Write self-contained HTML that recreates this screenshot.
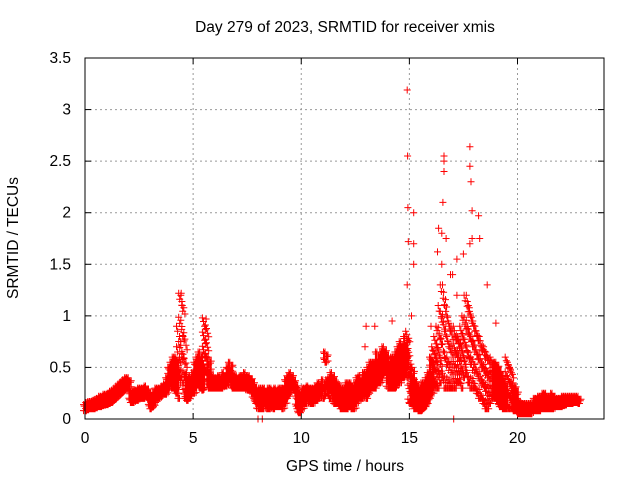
<!DOCTYPE html>
<html><head><meta charset="utf-8"><style>
body{margin:0;background:#fff}
svg text{font-family:"Liberation Sans",sans-serif;font-size:15.5px;fill:#000}
</style></head><body>
<svg id="c" width="640" height="480">
<text x="345" y="32" text-anchor="middle">Day 279 of 2023, SRMTID for receiver xmis</text>
<text x="345" y="471" text-anchor="middle">GPS time / hours</text>
<text transform="translate(18,238) rotate(-90)" text-anchor="middle">SRMTID / TECUs</text>
<g id="grid"></g><g id="marks"></g>
<rect x="85" y="58" width="519" height="361" fill="none" stroke="#000" stroke-width="1"/>
</svg>
<script>
const xTicks=[0,5,10,15,20];
const yTicks=[0,0.5,1,1.5,2,2.5,3,3.5];
const yTickLabels=["0","0.5","1","1.5","2","2.5","3","3.5"];
const sampleStep=0.1;
const bandLow=[.08,.09,.1,.1,.1,.11,.12,.12,.13,.14,.14,.15,.16,.18,.2,.22,.24,.26,.28,.3,.3,.16,.16,.18,.18,.2,.2,.2,.22,.2,.1,.12,.16,.2,.2,.22,.24,.24,.28,.35,.3,.3,.25,.2,.4,.35,.2,.18,.2,.25,.25,.3,.35,.3,.28,.5,.45,.3,.3,.3,.3,.3,.3,.3,.32,.32,.35,.4,.3,.3,.3,.3,.3,.3,.3,.28,.28,.25,.2,.15,.1,.1,.1,.15,.1,.1,.12,.1,.12,.12,.12,.1,.15,.2,.25,.3,.3,.25,.1,.06,.1,.15,.15,.2,.15,.15,.18,.18,.2,.25,.2,.55,.25,.2,.25,.15,.15,.15,.1,.1,.1,.1,.12,.1,.1,.15,.2,.2,.2,.25,.2,.25,.3,.3,.3,.35,.35,.4,.45,.45,.3,.3,.3,.3,.35,.35,.4,.4,.45,.4,.15,.15,.1,.1,.08,.08,.1,.12,.15,.2,.25,.3,.3,.3,.35,.4,.3,.3,.3,.3,.3,.3,.35,.35,.3,.4,.45,.35,.3,.3,.3,.25,.2,.2,.15,.1,.1,.15,.2,.2,.2,.15,.12,.1,.1,.1,.1,.1,.08,.08,.05,.05,.05,.05,.05,.05,.05,.08,.08,.08,.08,.1,.1,.1,.1,.1,.1,.12,.12,.12,.12,.13,.14,.15,.15,.15,.16,.16,.15];
const bandHigh=[.14,.16,.17,.17,.18,.19,.2,.22,.22,.24,.24,.25,.27,.28,.3,.32,.34,.36,.38,.4,.4,.26,.26,.28,.28,.3,.3,.3,.32,.28,.2,.22,.26,.3,.3,.3,.32,.34,.4,.5,.55,.6,.6,.9,1.22,1.2,.8,.45,.38,.4,.45,.55,.6,.65,.5,.98,.9,.6,.45,.4,.4,.4,.42,.4,.45,.42,.5,.55,.45,.42,.42,.4,.42,.42,.45,.4,.42,.38,.33,.3,.28,.3,.3,.3,.26,.3,.3,.28,.3,.28,.3,.3,.3,.38,.42,.45,.4,.35,.3,.25,.25,.3,.3,.32,.3,.3,.3,.32,.35,.33,.38,.65,.38,.4,.45,.4,.35,.35,.3,.3,.3,.35,.35,.35,.3,.35,.4,.42,.35,.45,.45,.5,.55,.55,.55,.65,.55,.65,.7,.65,.55,.55,.6,.6,.65,.7,.75,.7,.8,.85,.6,.5,.4,.35,.3,.3,.35,.35,.4,.45,.6,.7,.8,.9,1.1,1.3,1.3,1.1,1.0,.9,.9,.9,.8,.8,.9,1.0,1.2,1.2,1.1,1.0,.95,.9,.8,.8,.7,.7,.65,.6,.6,.55,.55,.5,.45,.4,.35,.6,.55,.5,.35,.3,.2,.15,.15,.15,.15,.15,.15,.15,.2,.2,.22,.22,.25,.25,.2,.22,.25,.22,.2,.2,.2,.22,.22,.22,.22,.22,.22,.22,.22];
const spikeTimes=[14.9,14.92,14.93,14.95,14.9,15.2,15.2,15.2,15.1,16.35,16.6,16.6,16.6,16.55,16.5,16.7,16.3,17.0,17.8,17.8,17.85,17.9,17.8,17.9,18.2,18.25,16.9,17.2,13.0,13.4,12.95,14.2,19.0,18.6,16.0,17.5,16.5,17.2,8.0,8.2,17.05,4.45,4.5,5.6];
const spikeValues=[3.19,2.55,2.05,1.72,1.3,2.0,1.7,1.5,1.0,1.85,2.55,2.5,2.4,2.1,1.8,1.75,1.62,1.4,2.64,2.45,2.3,2.02,1.7,1.75,1.97,1.75,1.4,1.55,0.9,0.9,0.7,0.95,0.93,1.3,0.9,1.6,1.5,1.2,0,0,0,1.22,1.1,0.97];
const X0=85,X1=604,Y0=419,Y1=58;
const xs=t=>X0+t/24*(X1-X0);
const ys=v=>Y0-v/3.5*(Y0-Y1);
const NS="http://www.w3.org/2000/svg";
const grid=document.getElementById('grid'),marks=document.getElementById('marks');
function mk(tag,attrs,parent){const e=document.createElementNS(NS,tag);for(const k in attrs)e.setAttribute(k,attrs[k]);parent.appendChild(e);return e;}
yTicks.forEach((v,i)=>{const y=ys(v);
 if(i>0&&i<yTicks.length-1){const g=mk('line',{x1:X0,x2:X1,y1:y,y2:y,stroke:'#999','stroke-dasharray':'2,3'},grid);
 
 }
 mk('line',{x1:X0,x2:X0+6,y1:y,y2:y,stroke:'#000'},grid);mk('line',{x1:X1-6,x2:X1,y1:y,y2:y,stroke:'#000'},grid);
 const t=mk('text',{x:71,y:y+5,'text-anchor':'end'},grid);t.textContent=yTickLabels[i];
 
 });
xTicks.forEach(v=>{const x=xs(v);
 if(v>0){const g=mk('line',{x1:x,x2:x,y1:Y1,y2:Y0,stroke:'#999','stroke-dasharray':'2,3'},grid);
 
 }
 mk('line',{x1:x,x2:x,y1:Y0,y2:Y0-6,stroke:'#000'},grid);mk('line',{x1:x,x2:x,y1:Y1,y2:Y1+6,stroke:'#000'},grid);
 const t=mk('text',{x:x,y:443,'text-anchor':'middle'},grid);t.textContent=String(v);
 
 });
let d='';
function plus(x,y){d+=`M${(x-3.5).toFixed(1)} ${y.toFixed(1)}h7M${x.toFixed(1)} ${(y-3.5).toFixed(1)}v7`;}
bandLow.forEach((lo,i)=>{const t=i*sampleStep,hi=bandHigh[i];
 const yl=ys(lo),yh=ys(hi),span=yl-yh;
 const cols=span>40?2:3;
 const step=span>40?Math.max(7,span/7):(span>20?4:3);
 for(let k=0;k<cols;k++){const x=xs(t+k*sampleStep/cols);
  let j=0;
  for(let y=yh+(k%2)*step/2;y<=yl;y+=step){plus(x+((j++)%2?1.5:-1.5),y);}
  plus(x,yl);}});
spikeTimes.forEach((t,i)=>plus(xs(t),ys(spikeValues[i])));
const p=mk('path',{d:d,stroke:'#f00','stroke-width':1,fill:'none'},marks);


</script>
</body></html>
